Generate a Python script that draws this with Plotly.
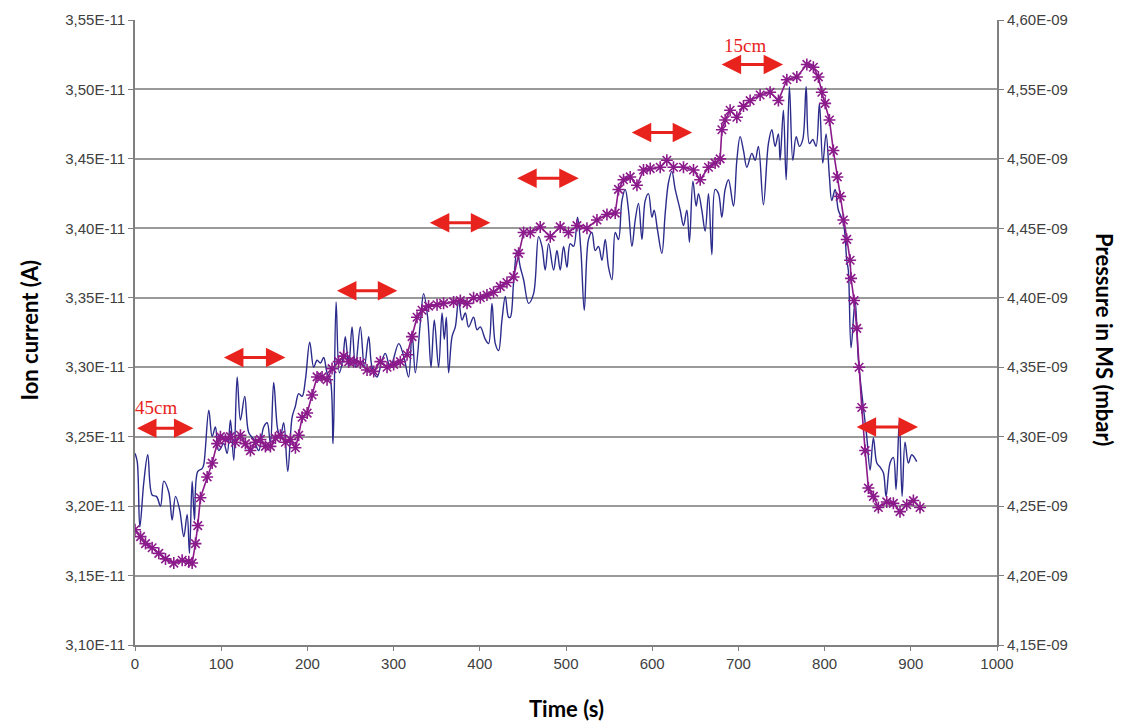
import plotly.graph_objects as go

# Ion current (left axis), time in s, current in units of 1e-11 A
ion_time = [0, 2.6, 5.6, 10.2, 14.8, 19.9, 24.9, 29.6, 33.4, 39.2, 43.1, 47, 51.9, 56.6, 60.5,
            63.2, 66.3, 69, 72.8, 77.9, 79.8, 85.6, 89.5, 93.3, 97.2, 103, 106.9, 110.7, 114.6,
            118.5, 122.3, 127.3, 131.9, 137.7, 143.5, 149.3, 153.3, 157.1, 160.9, 165.6, 168.7,
            172.5, 177.2, 182.3, 186.1, 189.9, 193.9, 197.7, 202.7, 207.3, 211.2, 215.1, 218.9,
            222.8, 226.7, 229.8, 233.3, 237.1, 240.9, 244, 247.9, 251.8, 255.7, 261.4, 266.1,
            271.1, 275, 280.8, 286.6, 290.4, 296.2, 305.9, 311.7, 317.4, 321.4, 325.2, 331,
            334.8, 339.5, 343.4, 347.2, 352.2, 356.2, 358.8, 361.2, 363.8, 367.8, 371.6, 375.4,
            379.4, 383.2, 387, 392.8, 396.8, 400.6, 406.4, 410.2, 414.1, 418, 421.8, 425.7,
            429.6, 433.4, 435.4, 439.2, 443.1, 447, 450.8, 456.6, 462.4, 468.2, 472.1, 475.9,
            479.8, 485.6, 489.5, 493.3, 497.2, 501.1, 504.9, 508.8, 513.4, 517.3, 521.2, 526.1,
            530.1, 533.9, 537.7, 541.7, 545.5, 549.3, 553.3, 557.1, 560.9, 564.9, 568.7, 572.5,
            576.5, 580.3, 584.1, 588.1, 591.9, 595.7, 599.7, 602.3, 606.1, 611.2, 615.1, 618.9,
            622.8, 626.7, 632.5, 636.3, 640.2, 643.2, 647.2, 651, 653.7, 657.6, 661.4, 665.3,
            669.2, 673, 676.9, 680.8, 684.6, 688.5, 694.3, 698.2, 702, 705.9, 709.8, 715.6,
            719.4, 723.2, 729, 734.8, 738.8, 742.6, 746.4, 748.4, 752.2, 755.4, 759.2, 763.1,
            767, 770.8, 774.7, 778.6, 782.4, 786.3, 790.1, 794, 797.9, 801.7, 805.6, 808.3,
            812.2, 816, 821.8, 825.7, 827.5, 830.7, 835.4, 839.2, 845, 848.9, 852.8, 856.6,
            860.6, 864.4, 868.2, 871.3, 875.9, 879.8, 882.9, 886.7, 889.9, 893.3, 897.2, 901.1,
            906.9]
ion_current = [3.238, 3.232, 3.185, 3.217, 3.237, 3.208, 3.207, 3.200, 3.218, 3.210, 3.190,
               3.207, 3.197, 3.178, 3.194, 3.166, 3.218, 3.190, 3.225, 3.227, 3.230, 3.269,
               3.250, 3.257, 3.240, 3.245, 3.238, 3.262, 3.233, 3.293, 3.262, 3.279, 3.253,
               3.248, 3.240, 3.257, 3.260, 3.245, 3.289, 3.255, 3.250, 3.260, 3.225, 3.264,
               3.272, 3.281, 3.279, 3.291, 3.318, 3.300, 3.305, 3.303, 3.307, 3.296, 3.291,
               3.245, 3.347, 3.296, 3.305, 3.322, 3.300, 3.329, 3.300, 3.329, 3.300, 3.322,
               3.300, 3.293, 3.305, 3.310, 3.300, 3.317, 3.308, 3.293, 3.325, 3.296, 3.332,
               3.353, 3.336, 3.300, 3.334, 3.300, 3.339, 3.320, 3.336, 3.296, 3.322, 3.329,
               3.348, 3.334, 3.339, 3.329, 3.336, 3.327, 3.329, 3.320, 3.317, 3.346, 3.317,
               3.312, 3.334, 3.351, 3.336, 3.336, 3.361, 3.384, 3.372, 3.363, 3.346, 3.353,
               3.394, 3.387, 3.370, 3.389, 3.370, 3.384, 3.370, 3.387, 3.372, 3.389, 3.387,
               3.408, 3.384, 3.341, 3.392, 3.397, 3.384, 3.387, 3.377, 3.392, 3.372, 3.363,
               3.397, 3.392, 3.420, 3.428, 3.413, 3.387, 3.406, 3.418, 3.392, 3.420, 3.425,
               3.408, 3.413, 3.399, 3.382, 3.411, 3.433, 3.441, 3.428, 3.413, 3.402, 3.413,
               3.390, 3.434, 3.416, 3.425, 3.413, 3.398, 3.425, 3.381, 3.428, 3.425, 3.408,
               3.428, 3.435, 3.416, 3.449, 3.466, 3.456, 3.444, 3.454, 3.449, 3.459, 3.417,
               3.461, 3.471, 3.459, 3.468, 3.449, 3.485, 3.435, 3.502, 3.449, 3.466, 3.459,
               3.464, 3.502, 3.461, 3.464, 3.459, 3.490, 3.447, 3.468, 3.437, 3.420, 3.428,
               3.413, 3.404, 3.377, 3.370, 3.314, 3.348, 3.305, 3.271, 3.250, 3.226, 3.249,
               3.231, 3.228, 3.224, 3.207, 3.231, 3.235, 3.212, 3.262, 3.207, 3.246, 3.231,
               3.237, 3.232]

# Pressure in the MS (right axis), in units of 1e-9 mbar
p_time = [0, 6.4, 12.2, 19.9, 27.6, 35.4, 45, 54.7, 62.4, 66.3, 70.1, 72.8, 75.9, 83.7, 89.5,
          95.3, 99.1, 104.9, 110.7, 116.5, 122.3, 128.1, 133.9, 139.7, 145.5, 151.3, 157.1,
          162.9, 168.7, 174.5, 180.3, 186.1, 189.9, 193.9, 199.7, 205.4, 211.2, 217, 222.8,
          228.6, 236.3, 242.1, 247.9, 253.7, 261.4, 269.2, 276.9, 284.6, 292.4, 300.1, 307.8,
          315.6, 321.4, 327.2, 333, 340.6, 350.4, 358, 369.6, 377.4, 385.2, 392.8, 400.6,
          408.3, 416, 423.8, 431.5, 439.2, 445, 450.8, 458.6, 470.1, 481.7, 493.3, 502.9,
          512.7, 524.3, 535.9, 547.5, 557.1, 560.9, 566.7, 574.5, 582.3, 589.9, 597.7, 609.3,
          617, 624.7, 636.3, 647.9, 655.7, 665.3, 673, 678.8, 680.8, 684.6, 690.4, 698.2,
          705.9, 713.6, 725.2, 736.8, 746.4, 756.2, 767.8, 779.4, 787, 792.8, 796.8, 800.6,
          805.6, 810.2, 814.8, 818, 821.8, 825.7, 829.6, 830.7, 834.2, 837.3, 840, 843.1, 847,
          850.8, 856.6, 862.4, 872.1, 879.8, 887.5, 895.3, 903, 910.7]
pressure = [4.233, 4.228, 4.223, 4.220, 4.216, 4.212, 4.209, 4.211, 4.210, 4.209, 4.223,
            4.236, 4.256, 4.271, 4.281, 4.295, 4.300, 4.298, 4.300, 4.296, 4.301, 4.295,
            4.290, 4.296, 4.298, 4.293, 4.293, 4.299, 4.301, 4.296, 4.298, 4.292, 4.301,
            4.314, 4.317, 4.330, 4.343, 4.343, 4.341, 4.349, 4.354, 4.358, 4.354, 4.354,
            4.353, 4.348, 4.347, 4.354, 4.350, 4.352, 4.354, 4.359, 4.372, 4.386, 4.391,
            4.394, 4.395, 4.396, 4.397, 4.398, 4.396, 4.400, 4.400, 4.402, 4.404, 4.408,
            4.411, 4.415, 4.432, 4.447, 4.447, 4.451, 4.444, 4.451, 4.447, 4.452, 4.450,
            4.456, 4.460, 4.461, 4.478, 4.485, 4.487, 4.481, 4.492, 4.493, 4.494, 4.499,
            4.494, 4.494, 4.492, 4.485, 4.494, 4.497, 4.500, 4.521, 4.528, 4.535, 4.530,
            4.538, 4.542, 4.546, 4.548, 4.542, 4.557, 4.559, 4.568, 4.566, 4.559, 4.548,
            4.540, 4.528, 4.506, 4.487, 4.473, 4.456, 4.442, 4.427, 4.414, 4.398, 4.378,
            4.350, 4.321, 4.290, 4.263, 4.257, 4.249, 4.253, 4.252, 4.246, 4.251, 4.254,
            4.249]

# Distance markers: start time, end time, level (1e-11 A)
span_start = [0.6, 101.4, 232.5, 340.3, 441.6, 574.5, 678.8, 835.4]
span_end = [67.8, 174.5, 304.3, 412.2, 514.8, 646.4, 751.9, 908.4]
span_level = [3.256, 3.307, 3.355, 3.404, 3.436, 3.469, 3.518, 3.257]
distance_labels = ["45cm", "15cm"]
distance_label_pos = [(23.8, 3.271), (707.8, 3.532)]

left_ticks = [3.10, 3.15, 3.20, 3.25, 3.30, 3.35, 3.40, 3.45, 3.50, 3.55]
right_ticks = [4.15, 4.20, 4.25, 4.30, 4.35, 4.40, 4.45, 4.50, 4.55, 4.60]
x_ticks = [0, 100, 200, 300, 400, 500, 600, 700, 800, 900, 1000]

I_SCALE = 1e-11
P_SCALE = 1e-9


def fmt(v, exp):
    return f"{v:.2f}".replace(".", ",") + exp


tick_font = dict(family="Liberation Sans, Arial, sans-serif", size=15, color="#404040")
title_font = dict(family="Lato, Open Sans, sans-serif", size=22, color="#000000")
axis_grey = "#808080"

fig = go.Figure()

fig.add_trace(go.Scatter(
    x=ion_time, y=[v * I_SCALE for v in ion_current],
    mode="lines", line=dict(color="#2B2B8C", width=1.4, shape="spline", smoothing=1.0),
    yaxis="y", showlegend=False, name="Ion current"))

fig.add_trace(go.Scatter(
    x=p_time, y=[v * P_SCALE for v in pressure],
    mode="lines+markers",
    line=dict(color="#8B1A8B", width=1.6),
    marker=dict(symbol="asterisk-open", size=10, color="#8B1A8B",
                line=dict(color="#8B1A8B", width=1.6)),
    yaxis="y2", showlegend=False, name="Pressure"))

annotations = []
for s, e, lv in zip(span_start, span_end, span_level):
    annotations.append(dict(
        x=e, y=lv * I_SCALE, ax=s, ay=lv * I_SCALE, xref="x", yref="y", axref="x", ayref="y",
        text="", showarrow=True, arrowside="end+start", arrowhead=2, arrowsize=1.3,
        arrowwidth=3, arrowcolor="#E8231E"))
for txt, (tx, ty) in zip(distance_labels, distance_label_pos):
    annotations.append(dict(
        x=tx, y=ty * I_SCALE, xref="x", yref="y", text=txt, showarrow=False,
        font=dict(family="Liberation Serif, Times New Roman, serif", size=19, color="#E8231E")))

annotations += [
    dict(text="<b>Ion current (A)</b>", x=-0.1235, y=0.504, xref="paper", yref="paper",
         textangle=-90, showarrow=False, xanchor="center", yanchor="middle", font=title_font),
    dict(text="<b>Pressure in MS (mbar)</b>", x=1.1252, y=0.488, xref="paper", yref="paper",
         textangle=90, showarrow=False, xanchor="center", yanchor="middle", font=title_font),
    dict(text="<b>Time (s)</b>", x=0.5003, y=-0.1008, xref="paper", yref="paper",
         showarrow=False, xanchor="center", yanchor="middle", font=title_font),
]

fig.update_layout(
    width=1125, height=724,
    margin=dict(l=134.5, r=128, t=20, b=79),
    paper_bgcolor="white", plot_bgcolor="white",
    xaxis=dict(range=[0, 1000], tickvals=x_ticks, ticktext=[str(v) for v in x_ticks],
               showgrid=False, zeroline=False, showline=True, linecolor=axis_grey, linewidth=2,
               ticks="outside", ticklen=4, tickcolor=axis_grey, tickfont=tick_font),
    yaxis=dict(range=[left_ticks[0] * I_SCALE, left_ticks[-1] * I_SCALE],
               tickvals=[v * I_SCALE for v in left_ticks],
               ticktext=[fmt(v, "E-11") for v in left_ticks],
               showgrid=True, gridcolor="#9A9A9A", gridwidth=1.5, zeroline=False,
               showline=True, linecolor=axis_grey, linewidth=2,
               ticks="outside", ticklen=5, tickcolor=axis_grey, tickfont=tick_font),
    yaxis2=dict(range=[right_ticks[0] * P_SCALE, right_ticks[-1] * P_SCALE],
                tickvals=[v * P_SCALE for v in right_ticks],
                ticktext=[fmt(v, "E-09") for v in right_ticks],
                overlaying="y", side="right", showgrid=False, zeroline=False,
                showline=True, linecolor=axis_grey, linewidth=2,
                ticks="outside", ticklen=5, tickcolor=axis_grey, tickfont=tick_font),
    annotations=annotations,
)

fig.write_html("out.html")
